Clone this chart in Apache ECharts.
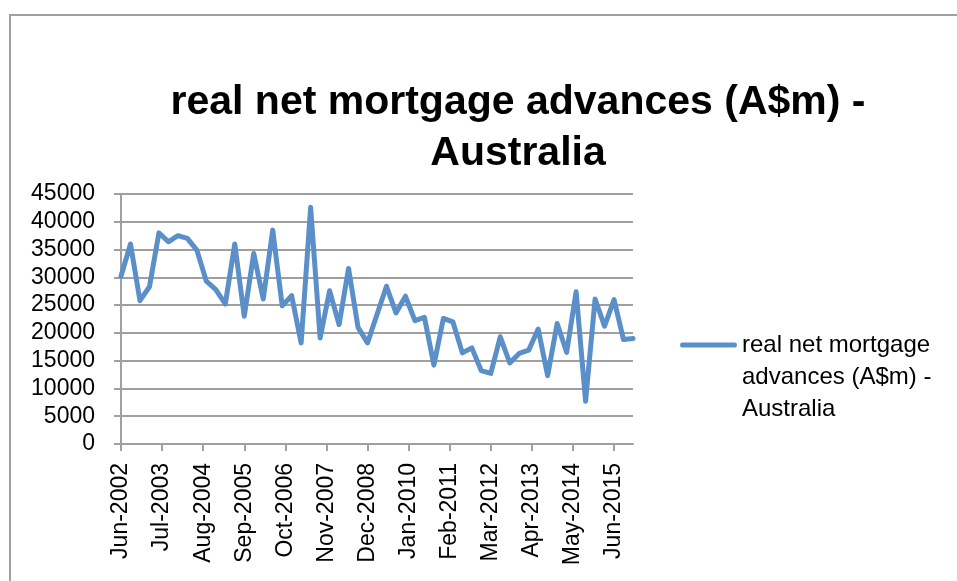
<!DOCTYPE html>
<html>
<head>
<meta charset="utf-8">
<script src="https://cdn.jsdelivr.net/npm/echarts@6/dist/echarts.min.js"></script>
<style>
html,body{margin:0;padding:0;background:#fff;}
#chart{width:957px;height:581px;}
</style>
</head>
<body>
<div id="chart"></div>
<script>
// Quarterly observation dates
var quarters = [
  'Jun-2002','Sep-2002','Dec-2002','Mar-2003','Jun-2003','Sep-2003','Dec-2003','Mar-2004',
  'Jun-2004','Sep-2004','Dec-2004','Mar-2005','Jun-2005','Sep-2005','Dec-2005','Mar-2006',
  'Jun-2006','Sep-2006','Dec-2006','Mar-2007','Jun-2007','Sep-2007','Dec-2007','Mar-2008',
  'Jun-2008','Sep-2008','Dec-2008','Mar-2009','Jun-2009','Sep-2009','Dec-2009','Mar-2010',
  'Jun-2010','Sep-2010','Dec-2010','Mar-2011','Jun-2011','Sep-2011','Dec-2011','Mar-2012',
  'Jun-2012','Sep-2012','Dec-2012','Mar-2013','Jun-2013','Sep-2013','Dec-2013','Mar-2014',
  'Jun-2014','Sep-2014','Dec-2014','Mar-2015','Jun-2015','Sep-2015','Dec-2015'
];
// real net mortgage advances (A$m)
var advances = [
  30200, 36000, 25800, 28300, 38000, 36400, 37500, 37000,
  34900, 29300, 27800, 25200, 36000, 23000, 34300, 26100,
  38500, 24900, 26700, 18200, 42600, 19100, 27600, 21500,
  31600, 21000, 18200, 23300, 28400, 23600, 26600, 22200,
  22800, 14200, 22600, 22000, 16400, 17300, 13200, 12700,
  19300, 14600, 16300, 16900, 20700, 12300, 21700, 16500,
  27400, 7700, 26100, 21200, 26000, 18800, 19000
];
var yTicks = [0, 5000, 10000, 15000, 20000, 25000, 30000, 35000, 40000, 45000];
var seriesName = 'real net mortgage advances (A$m) - Australia';
var legendLines = 'real net mortgage\nadvances (A$m) -\nAustralia';
var titleText = 'real net mortgage advances (A$m) -\nAustralia';

// Monthly date axis (Excel-style date axis, major unit 13 months)
var monthNames = ['Jan','Feb','Mar','Apr','May','Jun','Jul','Aug','Sep','Oct','Nov','Dec'];
var months = [];
(function(){
  var m = 5, y = 2002; // Jun-2002
  while (true) {
    var lab = monthNames[m] + '-' + y;
    months.push(lab);
    if (lab === quarters[quarters.length - 1]) break;
    m++; if (m > 11) { m = 0; y++; }
  }
})();

var seriesData = quarters.map(function(q, i){ return [q, advances[i]]; });

var FONT = '"Liberation Sans", Arial, sans-serif';
var BLUE = '#5A8FC9';
var GRID = '#a0a0a0';
var chart = echarts.init(document.getElementById('chart'), null, {renderer: 'canvas'});
chart.setOption({
  animation: false,
  backgroundColor: '#ffffff',
  title: {
    text: titleText,
    left: 513,
    top: 72,
    textAlign: 'center',
    textStyle: {
      fontFamily: FONT,
      fontSize: 41,
      fontWeight: 'bold',
      color: '#000',
      lineHeight: 51
    }
  },
  legend: {
    show: true,
    left: 675,
    top: 324,
    orient: 'vertical',
    itemWidth: 57,
    itemHeight: 69,
    symbolKeepAspect: false,
    icon: 'path://M2,0H55Q57,0 57,2.5Q57,5 55,5H2Q0,5 0,2.5Q0,0 2,0Z M0,69L0,69',
    itemStyle: { color: BLUE, borderWidth: 0 },
    data: [seriesName],
    formatter: function(){ return legendLines; },
    textStyle: {
      fontFamily: FONT,
      fontSize: 24,
      color: '#000',
      lineHeight: 32
    }
  },
  grid: {
    left: 121,
    right: 324,
    top: 194,
    bottom: 137,
    containLabel: false
  },
  xAxis: {
    type: 'category',
    data: months,
    boundaryGap: false,
    axisLine: { show: true, lineStyle: { color: GRID, width: 2 } },
    axisTick: { show: true, interval: 12, length: 7, lineStyle: { color: GRID, width: 2 } },
    axisLabel: {
      interval: 12,
      rotate: 90,
      margin: 19,
      fontFamily: FONT,
      fontSize: 23,
      color: '#000'
    },
    splitLine: { show: false }
  },
  yAxis: {
    type: 'value',
    min: yTicks[0],
    max: yTicks[yTicks.length - 1],
    interval: yTicks[1] - yTicks[0],
    axisLine: { show: true, lineStyle: { color: GRID, width: 2 } },
    axisTick: { show: true, length: 7, lineStyle: { color: GRID, width: 2 } },
    axisLabel: {
      margin: 26,
      fontFamily: FONT,
      fontSize: 23,
      color: '#000',
      formatter: function(v){ return String(v); }
    },
    splitLine: { show: true, lineStyle: { color: GRID, width: 2 } }
  },
  series: [{
    name: seriesName,
    type: 'line',
    data: seriesData,
    connectNulls: true,
    showSymbol: false,
    symbol: 'none',
    color: BLUE,
    lineStyle: { color: BLUE, width: 5, cap: 'round', join: 'round' }
  }],
  graphic: [{
    type: 'rect',
    shape: { x: 10, y: 15, width: 1200, height: 1200 },
    style: { fill: 'none', stroke: GRID, lineWidth: 2 },
    silent: true,
    z: -1
  }]
});
</script>
</body>
</html>
